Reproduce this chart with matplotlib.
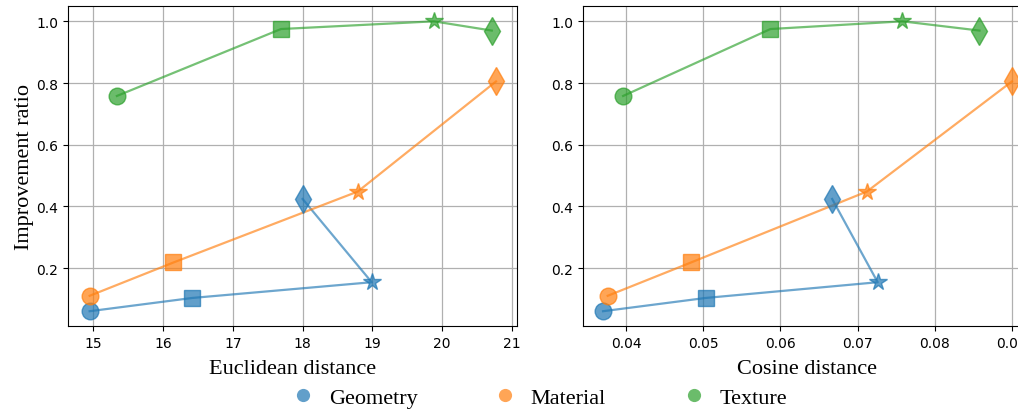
import matplotlib
matplotlib.use("Agg")
import matplotlib.pyplot as plt
from matplotlib.lines import Line2D

# Données : 4 méthodes (rond, carré, étoile, losange) par catégorie
categories = ["Geometry", "Material", "Texture"]
colors = ["tab:blue", "tab:orange", "tab:green"]
markers = ["o", "s", "*", "d"]
marker_sizes = [12, 12, 13, 14]

ratio_geometry = [0.060, 0.103, 0.154, 0.424]
ratio_material = [0.110, 0.218, 0.448, 0.805]
ratio_texture = [0.758, 0.975, 1.000, 0.970]

eucl_geometry = [14.95, 16.42, 18.99, 18.00]
eucl_material = [14.95, 16.15, 18.79, 20.77]
eucl_texture = [15.34, 17.69, 19.88, 20.71]

cos_geometry = [0.0370, 0.0503, 0.0726, 0.0667]
cos_material = [0.0376, 0.0484, 0.0712, 0.0900]
cos_texture = [0.0396, 0.0587, 0.0758, 0.0858]

ratios = [ratio_geometry, ratio_material, ratio_texture]
eucl = [eucl_geometry, eucl_material, eucl_texture]
cos = [cos_geometry, cos_material, cos_texture]

serif = "Liberation Serif"

fig = plt.figure(figsize=(10.18, 4.10), dpi=100)
ax1 = fig.add_axes([0.0668, 0.2024, 0.441, 0.780])
ax2 = fig.add_axes([0.5727, 0.2024, 0.441, 0.780])


def draw(ax, xs_list):
    for xs, ys, c in zip(xs_list, ratios, colors):
        ax.plot(xs, ys, color=c, alpha=0.65, lw=1.6, zorder=3)
        for x, y, m, ms in zip(xs, ys, markers, marker_sizes):
            ax.plot(x, y, marker=m, color=c, ms=ms, alpha=0.7,
                    linestyle="none", zorder=4)
    ax.grid(True, color="#b0b0b0", lw=0.9)
    ax.set_axisbelow(True)
    ax.set_ylim(0.012, 1.049)
    ax.set_yticks([0.2, 0.4, 0.6, 0.8, 1.0])
    ax.tick_params(labelsize=10)


draw(ax1, eucl)
ax1.set_xlim(14.64, 21.07)
ax1.set_xticks([15, 16, 17, 18, 19, 20, 21])
ax1.set_xlabel("Euclidean distance", family=serif, fontsize=16, labelpad=7)
ax1.set_ylabel("Improvement ratio", family=serif, fontsize=16, labelpad=2)

draw(ax2, cos)
ax2.set_xlim(0.0344, 0.0926)
ax2.set_xticks([0.04, 0.05, 0.06, 0.07, 0.08, 0.09])
ax2.set_xlabel("Cosine distance", family=serif, fontsize=16, labelpad=7)

handles = [Line2D([], [], marker="o", color=c, alpha=0.7, ls="none", ms=9.5,
                  markeredgewidth=0)
           for c in colors]
fig.legend(handles, categories, loc="center", ncol=3, frameon=False,
           bbox_to_anchor=(0.5246, 0.028), prop={"family": serif, "size": 16},
           columnspacing=2.95, handletextpad=0.15)

fig.savefig("out.png", dpi=100)
